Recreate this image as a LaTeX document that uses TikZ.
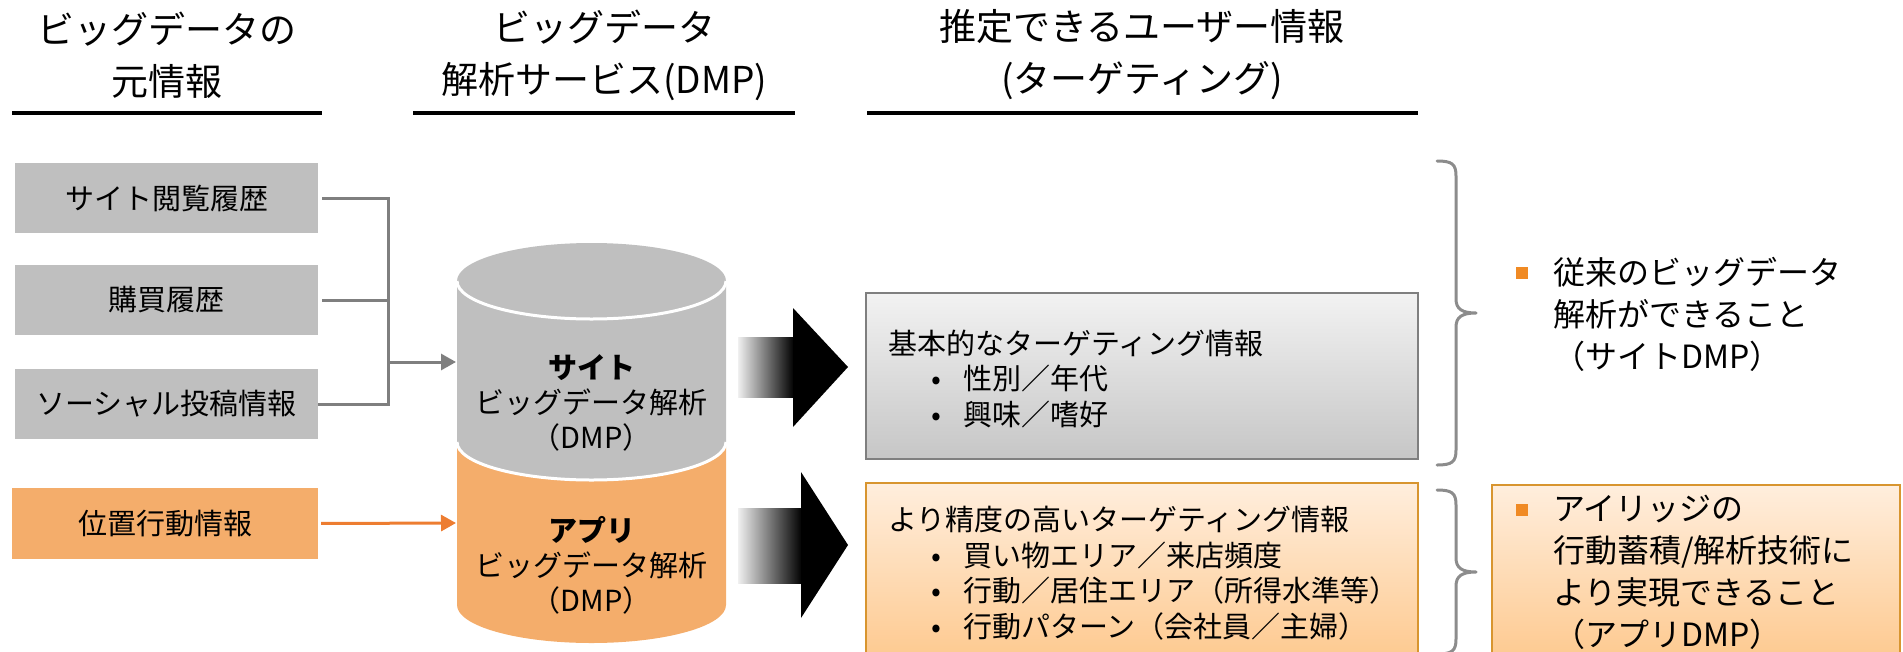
\documentclass[tikz,border=0pt]{standalone}
\usepackage{fontspec}
\setmainfont{Noto Sans CJK JP}
\usetikzlibrary{arrows.meta}
\definecolor{srcgray}{HTML}{BFBFBF}
\definecolor{srcorange}{HTML}{F4AD6B}
\definecolor{lineGray}{HTML}{7F7F7F}
\definecolor{arrowOrange}{HTML}{ED7D31}
\definecolor{braceGray}{HTML}{8C8C8C}
\definecolor{boxBorderGray}{HTML}{7F7F7F}
\definecolor{boxBorderOrange}{HTML}{D8952F}
\definecolor{bulletOrange}{HTML}{F08A24}
\definecolor{grayTop}{HTML}{F2F2F2}
\definecolor{grayBot}{HTML}{C6C6C6}
\definecolor{orTop}{HTML}{FFEEDD}
\definecolor{orBot}{HTML}{FDC382}
\begin{document}
\begin{tikzpicture}[x=1pt,y=-1pt,
  head/.style={align=center, inner sep=0pt, font=\fontsize{37}{52}\selectfont},
  headline/.style={line width=4pt, black},
  srcbox/.style={fill=srcgray, minimum width=303pt, minimum height=70pt, inner sep=0pt, font=\fontsize{29}{35}\selectfont},
  txt/.style={inner sep=0pt, font=\fontsize{29}{35.5}\selectfont},
  dbtxt/.style={align=center, inner sep=0pt, font=\fontsize{29}{35}\selectfont},
  conn/.style={line width=3pt, lineGray, line join=miter},
  oconn/.style={line width=3pt, arrowOrange},
  tbox/.style={minimum width=552pt, inner sep=0pt, line width=2pt},
  rtxt/.style={inner sep=0pt, align=left, font=\fontsize{32}{42}\selectfont},
  sqbullet/.style={fill=bulletOrange, minimum size=12pt, inner sep=0pt},
  bracestyle/.style={line width=3pt, braceGray, line cap=round, line join=round}
]
\useasboundingbox (0,0) rectangle (1903,651);
\clip (0,0) rectangle (1903,651);

% headings
\node[head] (h1) at (167,55) {ビッグデータの\\元情報};
\node[head] (h2) at (604,55) {ビッグデータ\\解析サービス(DMP)};
\node[head] (h3) at (1142,55) {推定できるユーザー情報\\(ターゲティング)};
\draw[headline] (12,113) -- (322,113);
\draw[headline] (413,113) -- (795,113);
\draw[headline] (867,113) -- (1418,113);

% source boxes
\node[srcbox] (s1) at (166.5,198) {サイト閲覧履歴};
\node[srcbox] (s2) at (166.5,300) {購買履歴};
\node[srcbox] (s3) at (166.5,404) {ソーシャル投稿情報};
\node[srcbox, fill=srcorange, minimum width=306pt, minimum height=71pt] (s4) at (165,523.5) {位置行動情報};

% cylinders
\fill[srcorange] (457,442) -- (457,605) arc[start angle=180, end angle=0, x radius=134.5, y radius=38] -- (726,442) -- cycle;
\fill[srcgray] (457,281) -- (457,442) arc[start angle=180, end angle=0, x radius=134.5, y radius=38] -- (726,281) -- cycle;
\fill[srcgray] (591.5,281) ellipse[x radius=134.5, y radius=38];
\draw[white, line width=3pt] (457,442) arc[start angle=180, end angle=0, x radius=134.5, y radius=38];
\draw[white, line width=3pt] (457,281) arc[start angle=180, end angle=0, x radius=134.5, y radius=38];
\node[dbtxt] (db1) at (591.5,403) {\textbf{サイト}\\ビッグデータ解析\\（DMP）};
\node[dbtxt] (db2) at (591.5,565) {\textbf{アプリ}\\ビッグデータ解析\\（DMP）};

% connectors
\coordinate (jt) at (388,198);
\coordinate (jb) at (388,404);
\coordinate (j) at (388,362);
\coordinate (db1in) at (456,362);
\coordinate (db2in) at (456,523);
\draw[conn, shorten <=4pt] (s1.east) -- (jt) -- (jb) -- (s3.east);
\draw[conn, shorten <=4pt] (s2.east) -- (s2.east -| jt);
\draw[conn, -{Triangle[length=15pt, width=16pt]}] (j) -- (db1in);
\draw[oconn, shorten <=3pt, -{Triangle[length=15pt, width=16pt]}] (s4.east) -- (db2in);

% big arrows
\shade[left color=black!6, right color=black] (738,337) rectangle (794,397);
\fill[black] (793,308) -- (848,367) -- (793,427) -- cycle;
\shade[left color=black!6, right color=black] (738,508) rectangle (802,583);
\fill[black] (801,472) -- (848,545) -- (801,618) -- cycle;

% target boxes
\node[tbox, minimum height=166pt, draw=boxBorderGray, top color=grayTop, bottom color=grayBot] (r1) at (1142,376) {};
\node[txt, align=left, anchor=west] (r1t) at (888,379) {基本的なターゲティング情報\\\hspace*{43pt}\makebox[32pt][l]{•}性別／年代\\\hspace*{43pt}\makebox[32pt][l]{•}興味／嗜好};
\node[tbox, minimum height=207pt, draw=boxBorderOrange, top color=orTop, bottom color=orBot] (r2) at (1142,586.5) {};
\node[txt, align=left, anchor=west] (r2t) at (888,573) {より精度の高いターゲティング情報\\\hspace*{43pt}\makebox[32pt][l]{•}買い物エリア／来店頻度\\\hspace*{43pt}\makebox[32pt][l]{•}行動／居住エリア（所得水準等）\\\hspace*{43pt}\makebox[32pt][l]{•}行動パターン（会社員／主婦）};

% braces
\draw[bracestyle] (1437,161) .. controls (1452,161) and (1456,164) .. (1456,176) -- (1456,299) .. controls (1456,309) and (1462,313) .. (1476,313) .. controls (1462,313) and (1456,317) .. (1456,327) -- (1456,450) .. controls (1456,462) and (1452,465) .. (1437,465);
\draw[bracestyle] (1437,490) .. controls (1452,490) and (1456,493) .. (1456,505) -- (1456,558) .. controls (1456,568) and (1462,572) .. (1476,572) .. controls (1462,572) and (1456,576) .. (1456,586) -- (1456,639) .. controls (1456,651) and (1452,654) .. (1437,654);

% right column
\node[sqbullet] (b1) at (1522,273) {};
\node[rtxt, anchor=west] (c1) at (1553,314) {従来のビッグデータ\\解析ができること\\（サイトDMP）};
\node[minimum width=408pt, minimum height=205pt, inner sep=0pt, line width=2pt, draw=boxBorderOrange, top color=orTop, bottom color=orBot] (r3) at (1696,587.5) {};
\node[sqbullet] (b2) at (1522,510) {};
\node[rtxt, anchor=west] (c2) at (1553,572) {アイリッジの\\行動蓄積/解析技術に\\より実現できること\\（アプリDMP）};
\end{tikzpicture}
\end{document}
